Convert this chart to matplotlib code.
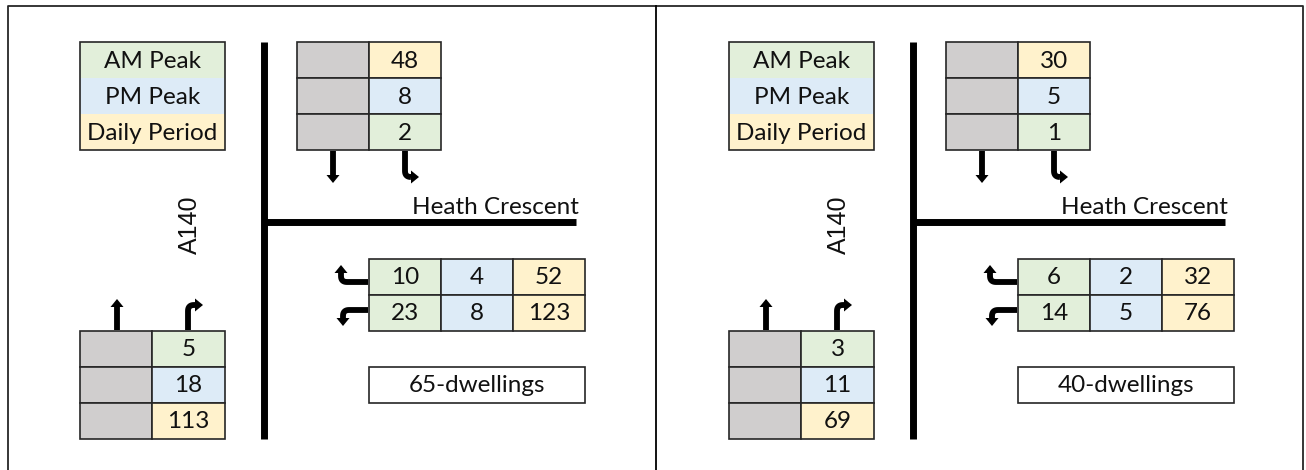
import matplotlib
matplotlib.use("Agg")
import matplotlib.pyplot as plt
from matplotlib.patches import Rectangle, Polygon
import numpy as np

# data
legend_labels = ["AM Peak", "PM Peak", "Daily Period"]
panels = ["65-dwellings", "40-dwellings"]
road_main = "A140"
road_side = "Heath Crescent"
# top table (southbound out of A140 north): daily, pm, am
north_vals = {"65-dwellings": [48, 8, 2], "40-dwellings": [30, 5, 1]}
# side road table rows: right turn out, left turn out ; cols am, pm, daily
side_vals = {"65-dwellings": [[10, 4, 52], [23, 8, 123]],
             "40-dwellings": [[6, 2, 32], [14, 5, 76]]}
# bottom table (northbound): am, pm, daily
south_vals = {"65-dwellings": [5, 18, 113], "40-dwellings": [3, 11, 69]}

GREEN = "#E2EFDA"
BLUE = "#DDEBF7"
YELLOW = "#FFF2CC"
GREY = "#D0CECE"
EDGE = "#262626"
plt.rcParams['font.family'] = ['Lato', 'DejaVu Sans']

fig = plt.figure(figsize=(13.06, 4.70), dpi=100)
ax = fig.add_axes([0, 0, 1, 1])
ax.set_xlim(0, 1306)
ax.set_ylim(470, 0)
ax.axis("off")

FS = 17.5


def cell(x, y, w, h, color, text=None):
    ax.add_patch(Rectangle((x, y), w, h, facecolor=color, edgecolor=EDGE, lw=1.2))
    if text is not None:
        ax.text(x + w / 2, y + h / 2 + 1, str(text), ha="center", va="center",
                fontsize=FS, color="#111111")


def rounded(pts, r=6):
    # round the inner corners of a polyline
    out = [pts[0]]
    for k in range(1, len(pts) - 1):
        p0, p1, p2 = map(np.array, (pts[k - 1], pts[k], pts[k + 1]))
        a = p1 + (p0 - p1) / np.linalg.norm(p0 - p1) * r
        b = p1 + (p2 - p1) / np.linalg.norm(p2 - p1) * r
        for t in np.linspace(0, 1, 8):
            q = (1 - t) ** 2 * a + 2 * (1 - t) * t * p1 + t ** 2 * b
            out.append(tuple(q))
    out.append(pts[-1])
    return out


def arrow(pts):
    line = rounded(pts)
    xs = [p[0] for p in line]
    ys = [p[1] for p in line]
    ax.plot(xs, ys, color="black", lw=4.2, solid_joinstyle="round", solid_capstyle="butt")
    (x0, y0), (x1, y1) = pts[-2], pts[-1]
    dx, dy = x1 - x0, y1 - y0
    n = (dx ** 2 + dy ** 2) ** 0.5
    dx, dy = dx / n, dy / n
    px, py = -dy, dx
    L, W = 8, 6.5
    tip = (x1 + dx * L, y1 + dy * L)
    ax.add_patch(Polygon([tip, (x1 + px * W, y1 + py * W), (x1 - px * W, y1 - py * W)],
                         closed=True, color="black", lw=0))


# outer frame
ax.plot([8, 8, 1303, 1303], [470, 6, 6, 470], color=EDGE, lw=1.3)
ax.plot([656, 656], [6, 470], color="black", lw=1.3)

cw, rh = 72, 36
for i, name in enumerate(panels):
    ox = i * 649
    # legend
    for j, (lab, col) in enumerate(zip(legend_labels, [GREEN, BLUE, YELLOW])):
        ax.add_patch(Rectangle((ox + 80, 42 + j * rh), 145, rh, facecolor=col, lw=0))
        ax.text(ox + 152.5, 42 + j * rh + rh / 2 + 1, lab, ha="center", va="center",
                fontsize=FS, color="#111111")
    ax.add_patch(Rectangle((ox + 80, 42), 145, 3 * rh, facecolor="none", edgecolor=EDGE, lw=1.2))

    # roads
    ax.plot([ox + 264, ox + 264], [42, 439], color="black", lw=5, solid_capstyle="butt")
    ax.plot([ox + 264, ox + 576], [222, 222], color="black", lw=5, solid_capstyle="butt")
    ax.text(ox + 579, 207, road_side, ha="right", va="center", fontsize=FS, color="#111111")
    ax.text(ox + 190, 225, road_main, ha="center", va="center", rotation=90,
            fontsize=18, color="#111111", family="Liberation Sans")

    # top table
    for j, (v, col) in enumerate(zip(north_vals[name], [YELLOW, BLUE, GREEN])):
        cell(ox + 297, 42 + j * rh, cw, rh, GREY)
        cell(ox + 369, 42 + j * rh, cw, rh, col, v)
    arrow([(ox + 333, 151), (ox + 333, 175)])
    arrow([(ox + 405, 151), (ox + 405, 177), (ox + 411, 177)])

    # side road table
    for r, row in enumerate(side_vals[name]):
        for c, (v, col) in enumerate(zip(row, [GREEN, BLUE, YELLOW])):
            cell(ox + 369 + c * cw, 259 + r * rh, cw, rh, col, v)
    arrow([(ox + 368, 282), (ox + 341, 282), (ox + 341, 273)])
    arrow([(ox + 368, 310), (ox + 343, 310), (ox + 343, 318)])

    # dwellings box
    cell(ox + 369, 367, 216, 36, "white", name)

    # bottom table
    for j, (v, col) in enumerate(zip(south_vals[name], [GREEN, BLUE, YELLOW])):
        cell(ox + 80, 331 + j * rh, cw, rh, GREY)
        cell(ox + 152, 331 + j * rh, 73, rh, col, v)
    arrow([(ox + 117, 330), (ox + 117, 307)])
    arrow([(ox + 188, 330), (ox + 188, 305), (ox + 195, 305)])

fig.savefig("out.png", dpi=100)
